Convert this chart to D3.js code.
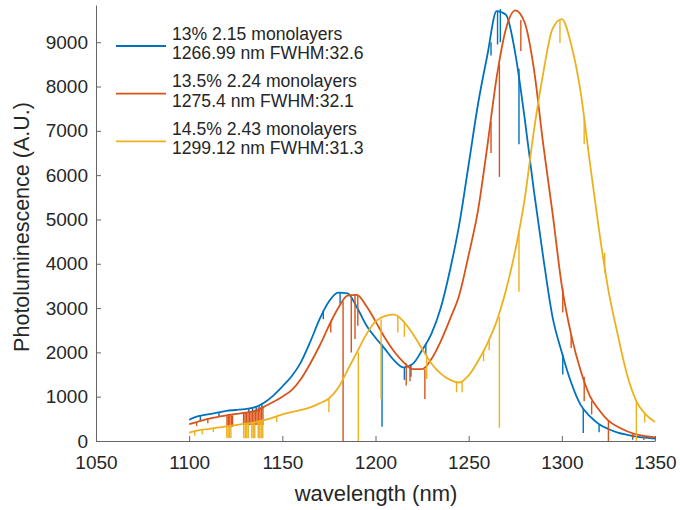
<!DOCTYPE html>
<html>
<head>
<meta charset="utf-8">
<script src="https://cdn.jsdelivr.net/npm/d3@7.9.0/dist/d3.min.js"></script>
<style>
  body { margin: 0; background: #fff; }
  svg text { font-family: "Liberation Sans", Arial, sans-serif; fill: #262626; }
</style>
</head>
<body>
<svg id="chart" width="680" height="510"></svg>
<script>
// wavelength grid (nm)
const wavelength = [1100, 1105, 1110, 1115, 1120, 1125, 1130, 1135, 1140, 1145,
  1150, 1155, 1160, 1165, 1170, 1175, 1180, 1185, 1190, 1195,
  1200, 1205, 1210, 1215, 1220, 1225, 1230, 1235, 1240, 1245,
  1250, 1255, 1260, 1265, 1270, 1275, 1280, 1285, 1290, 1295,
  1300, 1305, 1310, 1315, 1320, 1325, 1330, 1335, 1340, 1345, 1350];

// photoluminescence (A.U.)
const pl13 = [480, 560, 600, 640, 680, 700, 720, 760, 860, 1020,
  1230, 1460, 1780, 2240, 2750, 3150, 3350, 3330, 3020, 2620,
  2330, 2080, 1820, 1660, 1740, 2050, 2420, 3000, 3860, 4900,
  6240, 7600, 8700, 9700, 9620, 8750, 7300, 5650, 4150, 2800,
  2000, 1320, 820, 560, 380, 270, 190, 140, 100, 75, 55];
const pl135 = [380, 440, 500, 540, 580, 610, 640, 680, 770, 880,
  1000, 1150, 1400, 1750, 2150, 2600, 3000, 3280, 3300, 3050,
  2700, 2330, 2020, 1780, 1620, 1620, 1850, 2250, 2750, 3300,
  4200, 5200, 6650, 8200, 9300, 9720, 9450, 8400, 6700, 5150,
  3500, 2400, 1600, 1020, 700, 460, 320, 220, 150, 110, 80];
const pl145 = [190, 240, 270, 300, 330, 360, 390, 420, 470, 530,
  600, 650, 700, 760, 850, 960, 1200, 1600, 2000, 2400,
  2700, 2820, 2850, 2700, 2420, 2080, 1750, 1520, 1380, 1320,
  1480, 1800, 2200, 2700, 3400, 4300, 5450, 7000, 8300, 9300,
  9520, 8950, 7900, 6300, 4750, 3400, 2400, 1500, 900, 600, 430];

// narrow dips: [nm, level before dip, bottom of dip]
const dips13 = [[1106, 560, 450], [1116, 640, 560], [1132, 740, 640], [1134, 750, 640],
  [1136, 790, 650], [1137.5, 810, 660], [1139, 850, 700], [1172, 2950, 2750],
  [1181, 3360, 3100], [1203.5, 2180, 320], [1215.5, 1660, 1380], [1219, 1720, 1450],
  [1227, 2200, 1950], [1262, 9000, 8700], [1265.5, 9700, 8950], [1267, 9750, 9000],
  [1277, 8400, 6700], [1300.5, 1950, 1500], [1311.5, 730, 180], [1320, 380, 200],
  [1338, 120, 30]];
const dips135 = [[1104, 430, 340], [1110, 500, 400], [1120.3, 580, 320], [1121, 580, 320],
  [1121.8, 580, 320], [1122.6, 580, 320], [1123.3, 580, 320], [1129.2, 640, 360],
  [1130, 640, 360], [1130.8, 650, 360], [1131.6, 650, 360], [1132.4, 660, 360],
  [1133.2, 660, 360], [1134, 670, 360], [1134.8, 670, 360], [1135.6, 690, 360],
  [1136.4, 700, 360], [1137.2, 720, 360], [1138, 740, 360], [1138.8, 750, 360],
  [1139.6, 760, 360], [1176, 2700, 2450], [1182.6, 3150, 0], [1187, 3300, 2000],
  [1189, 3300, 2300], [1190.5, 3280, 2600], [1216.5, 1750, 1250], [1218.5, 1700, 1350],
  [1226.5, 1620, 950], [1262, 7200, 6500], [1266.5, 8500, 5960], [1278, 9500, 8800],
  [1300.5, 3450, 2900], [1305, 2400, 2100], [1312, 1450, 900], [1316, 900, 600],
  [1325, 470, 0], [1338, 180, 60], [1344, 110, 20]];
const dips145 = [[1103, 220, 120], [1107, 250, 150], [1113, 290, 200], [1120.2, 330, 70],
  [1120.9, 330, 70], [1121.6, 330, 70], [1122.4, 330, 70], [1129.3, 385, 60],
  [1130.1, 390, 60], [1130.9, 395, 60], [1131.7, 400, 60], [1133.6, 410, 60],
  [1134.4, 415, 60], [1135.2, 420, 60], [1137.1, 440, 60], [1137.9, 445, 60],
  [1138.7, 455, 60], [1139.5, 465, 60], [1147, 560, 430], [1175, 960, 650],
  [1190.8, 2000, 0], [1203, 2750, 950], [1212, 2830, 2450], [1215.5, 2700, 2350],
  [1227.5, 1950, 1400], [1243.5, 1330, 1100], [1246.5, 1340, 1100], [1258, 2050, 1800],
  [1261, 2300, 2050], [1266.5, 2800, 300], [1277, 4700, 3370], [1299, 9500, 8980],
  [1312, 7300, 6700], [1323, 4250, 3800], [1340, 900, 0], [1344.5, 650, 420]];

const legendLines = [
  ["13% 2.15 monolayers", "1266.99 nm FWHM:32.6"],
  ["13.5% 2.24 monolayers", "1275.4 nm FWHM:32.1"],
  ["14.5% 2.43 monolayers", "1299.12 nm FWHM:31.3"]
];
const xTicks = [1050, 1100, 1150, 1200, 1250, 1300, 1350];
const yTicks = [0, 1000, 2000, 3000, 4000, 5000, 6000, 7000, 8000, 9000];
const colors = ["#0072BD", "#D95319", "#EDB120"];

const series = [pl13, pl135, pl145];
const dips = [dips13, dips135, dips145];

const svg = d3.select("#chart");
const mLeft = 96, mRight = 655, mTop = 5, mBottom = 441;

const x = d3.scaleLinear().domain([1050, 1350]).range([mLeft, mRight]);
const y = d3.scaleLinear().domain([0, 9840]).range([mBottom, mTop]);

// axes (MATLAB style: inward ticks, no box)
const xAxis = svg.append("g")
  .attr("transform", `translate(0,${mBottom})`)
  .call(d3.axisBottom(x).tickValues(xTicks).tickFormat(d3.format("d"))
    .tickSizeInner(-5).tickSizeOuter(0).tickPadding(15));
const yAxis = svg.append("g")
  .attr("transform", `translate(${mLeft},0)`)
  .call(d3.axisLeft(y).tickValues(yTicks).tickFormat(d3.format("d"))
    .tickSizeInner(-5).tickSizeOuter(0).tickPadding(8));

[xAxis, yAxis].forEach(g => {
  g.select(".domain").attr("stroke", "#666").attr("stroke-width", 1);
  g.selectAll(".tick line").attr("stroke", "#666");
  g.selectAll(".tick text").attr("font-size", 19).attr("fill", "#262626")
    .attr("font-family", "Liberation Sans, Arial, sans-serif");
});

// spectra
const line = d3.line()
  .x((d, i) => x(wavelength[i]))
  .y(d => y(d))
  .curve(d3.curveMonotoneX);

series.forEach((vals, k) => {
  svg.append("path")
    .attr("d", line(vals))
    .attr("fill", "none")
    .attr("stroke", colors[k])
    .attr("stroke-width", 1.8)
    .attr("stroke-linejoin", "round");
  svg.append("g").selectAll("line")
    .data(dips[k])
    .join("line")
    .attr("x1", d => x(d[0])).attr("x2", d => x(d[0]))
    .attr("y1", d => y(d[1])).attr("y2", d => y(d[2]))
    .attr("stroke", colors[k])
    .attr("stroke-width", 1.4);
});

// axis labels
svg.append("text")
  .attr("x", 376).attr("y", 501)
  .attr("text-anchor", "middle")
  .attr("font-size", 22)
  .text("wavelength (nm)");
svg.append("text")
  .attr("transform", `translate(29,227) rotate(-90)`)
  .attr("text-anchor", "middle")
  .attr("font-size", 21.5)
  .text("Photoluminescence (A.U.)");

// legend
const legend = svg.append("g");
legendLines.forEach((txt, k) => {
  const base = 39.5 + k * 47.7;
  legend.append("line")
    .attr("x1", 116).attr("x2", 166)
    .attr("y1", base + 6.5).attr("y2", base + 6.5)
    .attr("stroke", colors[k]).attr("stroke-width", 1.8);
  const t = legend.append("text").attr("font-size", 17.6);
  t.append("tspan").attr("x", 172).attr("y", base).text(txt[0]);
  t.append("tspan").attr("x", 172).attr("y", base + 19.5).text(txt[1]);
});
</script>
</body>
</html>
